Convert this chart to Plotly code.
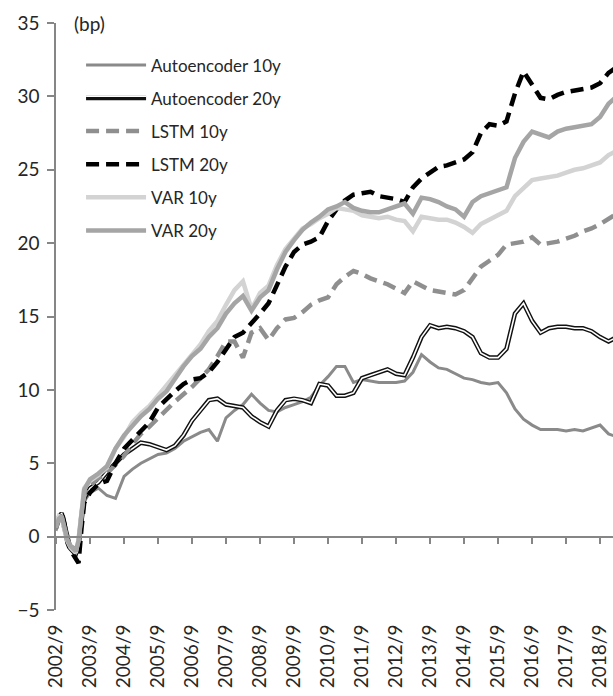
import plotly.graph_objects as go

# monthly samples in the first year, quarterly after that
dates = ['2002-09-01', '2002-10-01', '2002-11-01', '2002-12-01', '2003-01-01', '2003-02-01',
         '2003-03-01', '2003-04-01', '2003-05-01', '2003-06-01', '2003-07-01', '2003-09-01',
         '2003-12-01']
for yr in range(2004, 2020):
    for mo in (3, 6, 9, 12):
        if yr == 2019 and mo > 3:
            break
        dates.append('%d-%02d-01' % (yr, mo))

ae_10y = [0.4, 1.0, 1.2, 0.5, -0.2, -0.6, -0.7, -0.8, -0.5, 1.2, 2.4, 3.0, 3.3,
          2.8, 2.6, 4.1, 4.6, 5.0, 5.3, 5.6, 5.7, 6.0, 6.5, 6.8, 7.1, 7.3, 6.5, 8.1, 8.6,
          9.0, 9.7, 9.1, 8.6, 8.5, 8.8, 9.0, 9.2, 9.5, 10.3, 10.9, 11.6, 11.6, 10.5, 10.7,
          10.6, 10.5, 10.5, 10.5, 10.6, 11.2, 12.4, 11.9, 11.5, 11.4, 11.1, 10.8, 10.7,
          10.5, 10.4, 10.5, 9.8, 8.7, 8.0, 7.6, 7.3, 7.3, 7.3, 7.2, 7.3, 7.2, 7.4, 7.6,
          7.0, 6.8]
ae_20y = [0.6, 1.3, 1.6, 0.8, -0.3, -0.8, -1.0, -1.2, -0.6, 1.3, 2.6, 3.3, 3.7,
          4.4, 5.0, 5.6, 6.0, 6.4, 6.3, 6.1, 5.9, 6.2, 6.9, 7.9, 8.6, 9.3, 9.4, 9.0, 8.9,
          8.8, 8.2, 7.8, 7.5, 8.6, 9.3, 9.4, 9.3, 9.1, 10.4, 10.3, 9.6, 9.6, 9.8, 10.8,
          11.0, 11.2, 11.4, 11.1, 11.0, 12.2, 13.6, 14.4, 14.2, 14.3, 14.2, 14.0, 13.6,
          12.5, 12.2, 12.2, 12.8, 15.2, 15.9, 14.7, 13.9, 14.2, 14.3, 14.3, 14.2, 14.2,
          14.0, 13.6, 13.3, 13.6]
lstm_10y = [0.6, 1.1, 1.3, 0.6, -0.3, -0.7, -0.9, -1.0, -0.5, 1.5, 2.8, 3.5, 4.0,
            4.3, 4.9, 5.5, 6.3, 7.0, 7.5, 8.1, 8.7, 9.2, 9.7, 10.2, 10.8, 11.4, 12.3, 13.3,
            13.3, 12.2, 13.9, 14.2, 13.4, 14.2, 14.8, 14.9, 15.3, 15.8, 16.1, 16.3, 17.2,
            17.7, 18.1, 17.9, 17.6, 17.4, 17.2, 16.9, 16.6, 17.4, 17.1, 16.8, 16.7, 16.6,
            16.5, 16.8, 17.6, 18.4, 18.8, 19.2, 19.9, 20.0, 20.1, 20.4, 19.9, 20.0, 20.1,
            20.3, 20.5, 20.8, 21.0, 21.3, 21.7, 22.0]
lstm_20y = [0.7, 1.3, 1.7, 0.9, -0.4, -0.9, -1.2, -1.4, -1.8, 0.5, 2.3, 3.0, 3.6,
            3.8, 5.0, 6.0, 6.6, 7.2, 7.8, 8.8, 9.4, 9.9, 10.4, 10.7, 10.8, 11.2, 11.9, 12.8,
            13.6, 13.9, 14.5, 15.2, 15.9, 17.2, 18.4, 19.4, 19.9, 20.1, 20.4, 21.5, 22.3,
            22.9, 23.3, 23.4, 23.5, 23.2, 23.1, 23.0, 22.8, 23.8, 24.4, 24.8, 25.2, 25.3,
            25.5, 25.7, 26.2, 27.5, 28.1, 28.0, 28.3, 30.2, 31.7, 30.8, 29.9, 29.8, 30.1,
            30.3, 30.4, 30.5, 30.6, 30.9, 31.6, 32.0]
var_10y = [0.9, 1.4, 1.3, 0.5, -0.3, -0.7, -0.9, -1.1, -0.2, 2.0, 3.3, 3.8, 4.2,
           4.7, 6.0, 6.8, 7.8, 8.4, 8.9, 9.6, 10.3, 11.0, 11.7, 12.5, 13.1, 14.0, 14.7,
           15.8, 16.8, 17.4, 15.5, 16.6, 17.1, 18.5, 19.6, 20.3, 21.0, 21.3, 21.7, 22.0,
           22.4, 22.3, 22.2, 21.9, 21.8, 21.7, 21.8, 21.6, 21.5, 20.8, 21.8, 21.7, 21.6,
           21.6, 21.4, 21.1, 20.7, 21.3, 21.6, 21.9, 22.2, 23.2, 23.8, 24.3, 24.4, 24.5,
           24.6, 24.8, 25.0, 25.1, 25.3, 25.5, 26.0, 26.3]
var_20y = [0.6, 1.2, 1.4, 0.7, -0.2, -0.6, -0.8, -1.0, -0.3, 1.8, 3.2, 3.9, 4.3,
           4.8, 6.0, 6.9, 7.6, 8.2, 8.7, 9.4, 9.9, 10.8, 11.6, 12.3, 12.8, 13.6, 14.2,
           15.2, 15.9, 16.4, 15.4, 16.3, 16.8, 18.2, 19.4, 20.2, 20.9, 21.4, 21.8, 22.3,
           22.5, 22.8, 22.4, 22.2, 22.1, 22.1, 22.3, 22.5, 22.7, 22.0, 23.1, 23.0, 22.8,
           22.5, 22.3, 21.8, 22.8, 23.2, 23.4, 23.6, 23.8, 25.8, 26.9, 27.6, 27.4, 27.2,
           27.6, 27.8, 27.9, 28.0, 28.1, 28.6, 29.5, 30.0]

tick_years = list(range(2002, 2019))
tick_vals = ['%d-09-01' % y for y in tick_years]
tick_text = ['%d/9' % y for y in tick_years]

FONT = 'Lato, "Open Sans", sans-serif'
AXIS = '#868686'
DASH = '13px,7px'

fig = go.Figure()
fig.add_trace(go.Scatter(x=dates, y=ae_10y, name='Autoencoder 10y', mode='lines',
                         line=dict(color='#8a8a8a', width=3), legendgroup='a'))
fig.add_trace(go.Scatter(x=dates, y=ae_20y, name='Autoencoder 20y', mode='lines',
                         line=dict(color='#111111', width=4.5), legendgroup='b'))
# white core of the double line (own legend, laid over the black sample)
fig.add_trace(go.Scatter(x=dates, y=ae_20y, name=' ', mode='lines',
                         line=dict(color='#ffffff', width=1.6), legend='legend2',
                         hoverinfo='skip'))
fig.add_trace(go.Scatter(x=dates, y=lstm_10y, name='LSTM 10y', mode='lines',
                         line=dict(color='#8f8f8f', width=4.5, dash=DASH), legendgroup='c'))
fig.add_trace(go.Scatter(x=dates, y=lstm_20y, name='LSTM 20y', mode='lines',
                         line=dict(color='#000000', width=4.5, dash=DASH), legendgroup='d'))
fig.add_trace(go.Scatter(x=dates, y=var_10y, name='VAR 10y', mode='lines',
                         line=dict(color='#d3d3d3', width=4.5), legendgroup='e'))
fig.add_trace(go.Scatter(x=dates, y=var_20y, name='VAR 20y', mode='lines',
                         line=dict(color='#a5a5a5', width=4.5), legendgroup='f'))
# invisible helper so the zero-crossing axis gets drawn
fig.add_trace(go.Scatter(x=dates, y=var_20y, xaxis='x2', mode='lines', opacity=0,
                         showlegend=False, hoverinfo='skip'))

x_range = ['2002-09-01', '2019-01-18']

fig.update_layout(
    width=613, height=696,
    margin=dict(l=56, r=0, t=23, b=86),
    paper_bgcolor='white', plot_bgcolor='white',
    font=dict(family=FONT, size=17, color='#262626'),
    showlegend=True,
    legend=dict(x=0.045, y=0.9585, xanchor='left', yanchor='top',
                bgcolor='rgba(0,0,0,0)', itemwidth=60, tracegroupgap=8,
                traceorder='grouped', font=dict(size=17)),
    legend2=dict(x=0.045, y=0.905, xanchor='left', yanchor='top',
                 bgcolor='rgba(0,0,0,0)', itemwidth=60,
                 font=dict(size=17, color='rgba(0,0,0,0)')),
    xaxis=dict(type='date', range=x_range, tickvals=tick_vals, ticktext=tick_text,
               tickangle=-90, ticks='outside', ticklen=6, tickcolor='rgba(0,0,0,0)',
               tickfont=dict(size=19), showline=False, showgrid=False, zeroline=False),
    xaxis2=dict(type='date', range=x_range, overlaying='x', anchor='free', position=0.125,
                tickvals=tick_vals, ticks='outside', ticklen=7, tickwidth=1.5,
                tickcolor=AXIS, showticklabels=False, showline=True, linecolor=AXIS,
                linewidth=1.5, showgrid=False, zeroline=False),
    yaxis=dict(range=[-5, 35], dtick=5, ticks='outside', ticklen=7, tickwidth=1.5,
               tickcolor=AXIS, showline=True, linecolor=AXIS, linewidth=1.5,
               tickfont=dict(size=19), ticklabelstandoff=4,
               showgrid=False, zeroline=False),
    annotations=[dict(text='(bp)', xref='paper', yref='paper', x=0.028, y=1,
                      xanchor='left', yanchor='middle', showarrow=False,
                      font=dict(size=19))],
)

fig.write_html('out.html', config={'displayModeBar': False},
               post_script="document.body.style.margin='0px';")
